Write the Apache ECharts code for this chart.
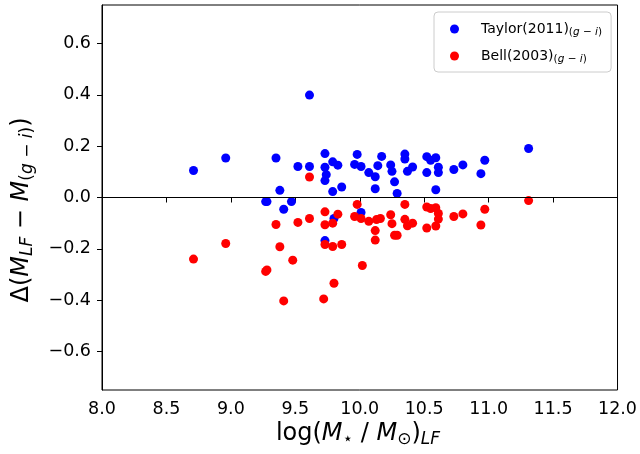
<!DOCTYPE html>
<html><head><meta charset="utf-8">
<script src="https://cdn.jsdelivr.net/npm/echarts@6/dist/echarts.min.js"></script>
<style>html,body{margin:0;padding:0;background:#fff}#c{width:640px;height:454px}</style>
</head><body><div id="c"></div>
<script>
const taylorX = [8.71,8.96,9.35,9.52,9.61,9.61,9.38,9.27,9.28,9.41,9.47,9.73,9.73,9.74,9.73,9.79,9.83,9.79,9.86,9.98,9.96,10.01,10.07,10.12,10.12,10.14,10.17,10.24,10.25,10.27,10.29,10.35,10.35,10.37,10.41,10.52,10.55,10.59,10.52,10.61,10.61,10.59,10.73,10.80,10.97,10.94,11.31,10.01,9.80,9.73];
const taylorY = [0.105,0.154,0.154,0.121,0.121,0.399,0.028,-0.016,-0.016,-0.046,-0.016,0.171,0.118,0.089,0.066,0.139,0.126,0.023,0.041,0.168,0.129,0.121,0.097,0.081,0.034,0.124,0.160,0.127,0.102,0.061,0.016,0.169,0.150,0.102,0.119,0.159,0.145,0.155,0.097,0.118,0.097,0.030,0.109,0.127,0.145,0.093,0.191,-0.058,-0.082,-0.168];
const bellX = [8.71,8.96,9.35,9.52,9.61,9.61,9.38,9.48,9.27,9.28,9.41,9.73,9.73,9.79,9.83,9.73,9.79,9.86,9.80,9.72,9.98,9.96,10.01,10.07,10.12,10.12,10.13,10.16,10.02,10.24,10.25,10.27,10.29,10.35,10.35,10.37,10.41,10.52,10.55,10.59,10.61,10.61,10.59,10.52,10.73,10.80,10.97,10.94,11.31];
const bellY = [-0.240,-0.179,-0.105,-0.097,-0.082,0.080,-0.192,-0.244,-0.288,-0.282,-0.403,-0.056,-0.106,-0.100,-0.065,-0.183,-0.191,-0.183,-0.334,-0.395,-0.027,-0.074,-0.082,-0.093,-0.129,-0.166,-0.086,-0.082,-0.265,-0.067,-0.102,-0.147,-0.147,-0.027,-0.085,-0.110,-0.100,-0.037,-0.043,-0.040,-0.062,-0.084,-0.111,-0.119,-0.074,-0.064,-0.046,-0.107,-0.012];
const xTicks = [8.0,8.5,9.0,9.5,10.0,10.5,11.0,11.5,12.0];
const yTicks = [-0.6,-0.4,-0.2,0.0,0.2,0.4,0.6];
const seriesNames = ['Taylor(2011)','Bell(2003)'];

const FONT = 'DejaVu Sans';
const fmt = v => { const s = Math.abs(v) < 1e-9 ? '0.0' : v.toFixed(1); return s.replace('-', '\u2212'); };
const chart = echarts.init(document.getElementById('c'), null, {renderer:'canvas'});
const big = {fontFamily:FONT, fontSize:24, lineHeight:28, color:'#000'};
const sub = {fontFamily:FONT, fontSize:17, lineHeight:17, padding:[11,0,0,0], color:'#000'};
const titleRich = {
  r: big,
  i: Object.assign({}, big, {fontStyle:'italic'}),
  s: sub,
  si: Object.assign({}, sub, {fontStyle:'italic'})
};
chart.setOption({
  animation:false,
  backgroundColor:'#fff',
  grid:{left:102, right:21, top:5, bottom:64, show:true, borderColor:'#000', borderWidth:1, containLabel:false},
  xAxis:{type:'value', min:8, max:12, interval:0.5,
    axisLine:{show:true, lineStyle:{color:'#000', width:1}},
    axisTick:{show:true, length:5, lineStyle:{color:'#000'}},
    axisLabel:{fontFamily:FONT, fontSize:17.5, color:'#000', margin:10, formatter:fmt, customValues:xTicks},
    splitLine:{show:false}},
  yAxis:{type:'value', min:-0.75, max:0.75,
    axisLine:{show:true, lineStyle:{color:'#000', width:1}},
    axisTick:{show:true, length:5, lineStyle:{color:'#000'}, customValues:yTicks},
    axisLabel:{fontFamily:FONT, fontSize:17.5, color:'#000', margin:11, formatter:fmt, customValues:yTicks},
    splitLine:{show:false}},
  legend:{left:434, top:12, orient:'vertical', itemWidth:9, itemHeight:9, itemGap:9,
    padding:[8,9,7,16], borderColor:'#cccccc', borderWidth:1, borderRadius:4, backgroundColor:'#fff',
    data:[{name:seriesNames[0], icon:'circle'},{name:seriesNames[1], icon:'circle'}],
    formatter: n => '{n|' + n + '}{s|(}{si|g}{s| \u2212 }{si|i}{s|)}',
    textStyle:{rich:{
      n:{fontFamily:FONT, fontSize:14, lineHeight:17, color:'#000', padding:[0,0,0,17]},
      s:{fontFamily:FONT, fontSize:10.5, lineHeight:10, padding:[7,0,0,0], color:'#000'},
      si:{fontFamily:FONT, fontSize:10.5, lineHeight:10, padding:[7,0,0,0], color:'#000', fontStyle:'italic'}
    }}},
  series:[
    {name:seriesNames[0], type:'scatter', symbol:'circle', symbolSize:9, itemStyle:{color:'#0000ff', opacity:1},
     data:taylorX.map((x,i)=>[x,taylorY[i]]),
     markLine:{silent:true, symbol:'none', label:{show:false}, lineStyle:{color:'#000', width:1, type:'solid'}, data:[{yAxis:0}]}},
    {name:seriesNames[1], type:'scatter', symbol:'circle', symbolSize:9, itemStyle:{color:'#ff0000', opacity:1},
     data:bellX.map((x,i)=>[x,bellY[i]])}
  ],
  graphic:[
    {type:'text', x:358, y:434, style:{text:'{r|log(}{i|M}{s|\u22c6}{r| / }{i|M}{s|\u2299}{r|)}{si|LF}', rich:titleRich, align:'center', verticalAlign:'middle'}},
    {type:'text', x:22, y:210, rotation:Math.PI/2, style:{text:'{r|\u0394(}{i|M}{si|LF}{r| \u2212 }{i|M}{s|(}{si|g}{s| \u2212 }{si|i}{s|)}{r|)}', rich:titleRich, align:'center', verticalAlign:'middle'}}
  ]
});
</script>
</body></html>
